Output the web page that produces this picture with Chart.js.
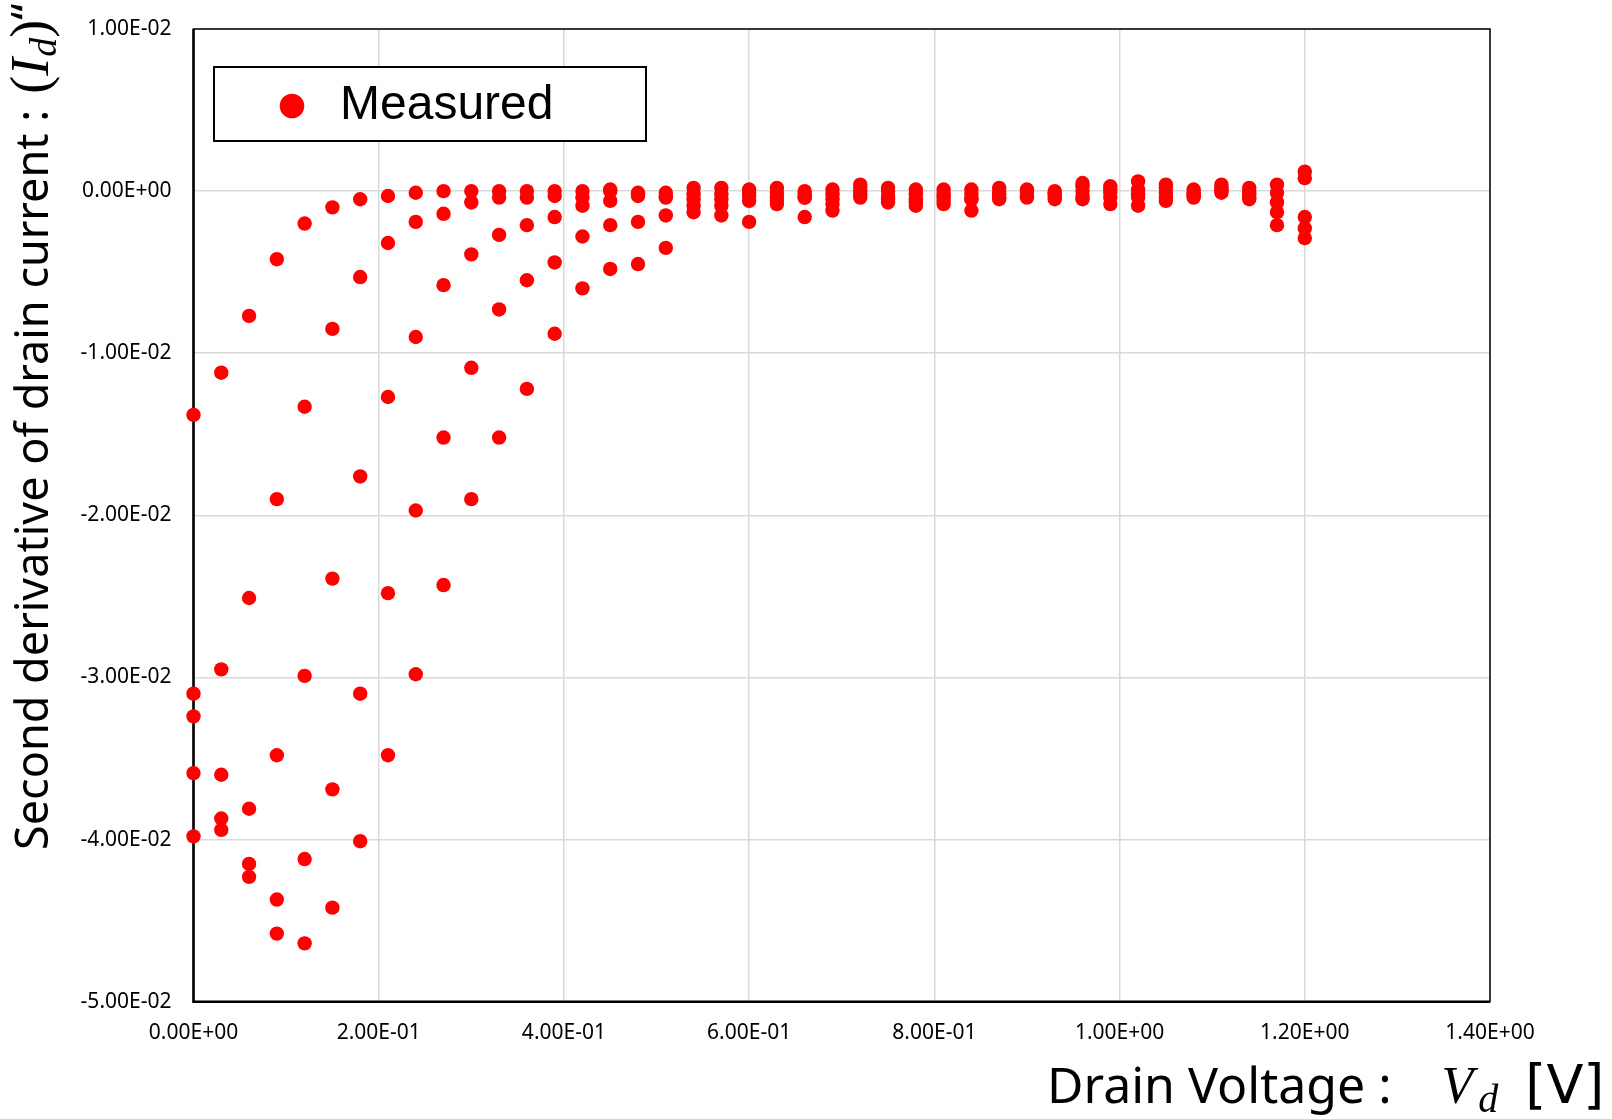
<!DOCTYPE html>
<html>
<head>
<meta charset="utf-8">
<title>Second derivative of drain current</title>
<script src="https://cdn.jsdelivr.net/npm/chart.js@4.4.1/dist/chart.umd.min.js"></script>
<style>
  html, body { margin: 0; padding: 0; background: #fff; }
  canvas { display: block; }
</style>
</head>
<body>
<canvas id="d2Chart" width="1612" height="1119"></canvas>
<script>
// Drain voltage sweep [V]
const vd = [
  0.00, 0.03, 0.06, 0.09, 0.12, 0.15, 0.18, 0.21, 0.24, 0.27,
  0.30, 0.33, 0.36, 0.39, 0.42, 0.45, 0.48, 0.51, 0.54, 0.57,
  0.60, 0.63, 0.66, 0.69, 0.72, 0.75, 0.78, 0.81, 0.84, 0.87,
  0.90, 0.93, 0.96, 0.99, 1.02, 1.05, 1.08, 1.11, 1.14, 1.17,
  1.20
];

// Second derivative of Id, one array per measured curve
const curve1 = [
  -0.0138, -0.0112, -0.0077, -0.0042, -0.0020, -0.0010, -0.0005, -0.0003, -0.0001, 0.0000,
   0.0000,  0.0000,  0.0000,  0.0000,  0.0000,  0.0001, -0.0001, -0.0001,  0.0002, 0.0002,
   0.0001,  0.0002,  0.0000,  0.0001,  0.0004,  0.0002,  0.0001,  0.0001,  0.0001, 0.0002,
   0.0001,  0.0000,  0.0005,  0.0003,  0.0006,  0.0004,  0.0001,  0.0004,  0.0002, 0.0004,
   0.0012
];
const curve2 = [
  -0.0310, -0.0295, -0.0251, -0.0190, -0.0133, -0.0085, -0.0053, -0.0032, -0.0019, -0.0014,
  -0.0007, -0.0004, -0.0004, -0.0003, -0.0004,  0.0000, -0.0002, -0.0003, -0.0002, -0.0002,
  -0.0001, -0.0001, -0.0002, -0.0002,  0.0002,  0.0000, -0.0002, -0.0002, -0.0002,  0.0000,
   0.0000, -0.0001,  0.0003,  0.0001,  0.0001,  0.0002, -0.0001,  0.0002,  0.0000, -0.0001,
   0.0008
];
const curve3 = [
  -0.0324, -0.0360, -0.0381, -0.0348, -0.0299, -0.0239, -0.0176, -0.0127, -0.0090, -0.0058,
  -0.0039, -0.0027, -0.0021, -0.0016, -0.0009, -0.0006, -0.0003, -0.0004, -0.0005, -0.0005,
  -0.0003, -0.0004, -0.0004, -0.0005,  0.0000, -0.0003, -0.0005, -0.0004, -0.0005, -0.0002,
  -0.0001, -0.0002,  0.0000, -0.0001, -0.0002, -0.0001, -0.0002,  0.0001, -0.0002, -0.0007,
  -0.0016
];
const curve4 = [
  -0.0359, -0.0387, -0.0415, -0.0437, -0.0412, -0.0369, -0.0310, -0.0248, -0.0197, -0.0152,
  -0.0109, -0.0073, -0.0055, -0.0044, -0.0028, -0.0021, -0.0019, -0.0015, -0.0009, -0.0009,
  -0.0006, -0.0006, -0.0004, -0.0008, -0.0002, -0.0005, -0.0007, -0.0006, -0.0005, -0.0004,
  -0.0003, -0.0003, -0.0003, -0.0004, -0.0004, -0.0004, -0.0003,  0.0000, -0.0004, -0.0013,
  -0.0023
];
const curve5 = [
  -0.0398, -0.0394, -0.0423, -0.0458, -0.0464, -0.0442, -0.0401, -0.0348, -0.0298, -0.0243,
  -0.0190, -0.0152, -0.0122, -0.0088, -0.0060, -0.0048, -0.0045, -0.0035, -0.0013, -0.0015,
  -0.0019, -0.0008, -0.0016, -0.0012, -0.0004, -0.0007, -0.0009, -0.0008, -0.0012, -0.0005,
  -0.0004, -0.0005, -0.0005, -0.0008, -0.0009, -0.0006, -0.0004, -0.0001, -0.0005, -0.0021,
  -0.0029
];
const curves = [curve1, curve2, curve3, curve4, curve5];

const RED = "#ff0000";
const SANS = "'Noto Sans', 'Open Sans', sans-serif";
const ARIAL = "'Liberation Sans', Arial, sans-serif";
const WIDE = "'DejaVu Sans', Verdana, sans-serif";
const SERIF = "'Liberation Serif', 'Times New Roman', serif";

// Excel style scientific labels: 1.00E-02
function sci(v) {
  const [m, e] = Number(v).toExponential(2).split("e");
  const n = parseInt(e, 10);
  return m + "E" + (n < 0 ? "-" : "+") + String(Math.abs(n)).padStart(2, "0");
}

const points = [];
curves.forEach((c) => c.forEach((y, i) => points.push({ x: vd[i], y })));

// frame around the plotting area, under the markers
const plotFrame = {
  id: "plotFrame",
  beforeDatasetsDraw(chart) {
    const { ctx, chartArea: a } = chart;
    ctx.save();
    ctx.strokeStyle = "#000";
    ctx.lineWidth = 1.5;
    ctx.strokeRect(a.left, a.top, a.right - a.left, a.bottom - a.top);
    ctx.lineWidth = 2.5;
    ctx.beginPath();
    ctx.moveTo(a.left, a.top);
    ctx.lineTo(a.left, a.bottom);
    ctx.lineTo(a.right, a.bottom);
    ctx.stroke();
    ctx.restore();
  },
};

// boxed legend in the upper left of the plot
const legendBox = {
  id: "legendBox",
  afterDatasetsDraw(chart) {
    const { ctx } = chart;
    const ds = chart.data.datasets[0];
    ctx.save();
    ctx.fillStyle = "#fff";
    ctx.fillRect(214, 67, 432, 74);
    ctx.strokeStyle = "#000";
    ctx.lineWidth = 2;
    ctx.strokeRect(214, 67, 432, 74);
    ctx.fillStyle = ds.backgroundColor;
    ctx.beginPath();
    ctx.arc(292, 106, 12.3, 0, Math.PI * 2);
    ctx.fill();
    ctx.fillStyle = "#000";
    ctx.font = "48px " + ARIAL;
    ctx.textBaseline = "middle";
    ctx.fillText(ds.label, 340, 106);
    ctx.restore();
  },
};

// axis titles with italic math symbols
function drawRuns(ctx, runs, x, y) {
  runs.forEach((r) => {
    ctx.font = r.font;
    ctx.fillText(r.text, x, y + (r.dy || 0));
    x += ctx.measureText(r.text).width + (r.gap || 0);
  });
  return x;
}

const axisTitles = {
  id: "axisTitles",
  afterDraw(chart) {
    const { ctx } = chart;
    ctx.save();
    ctx.fillStyle = "#000";
    ctx.textBaseline = "alphabetic";
    ctx.textAlign = "left";

    // vertical title
    ctx.save();
    ctx.translate(48, 850);
    ctx.rotate(-Math.PI / 2);
    drawRuns(ctx, [
      { text: "Second derivative of drain current :", font: "45px " + SANS, gap: 16 },
      { text: "(", font: "54px " + SERIF },
      { text: "I", font: "italic 54px " + SERIF, gap: 1 },
      { text: "d", font: "italic 38px " + SERIF, dy: 8 },
      { text: ")", font: "54px " + SERIF },
      { text: "\u201C", font: "45px " + SANS, dy: -4 },
    ], 0, 0);
    ctx.restore();

    // horizontal title
    drawRuns(ctx, [
      { text: "Drain Voltage :", font: "50px " + SANS, gap: 50 },
      { text: "V", font: "italic 52px " + SERIF, gap: 5 },
      { text: "d", font: "italic 40px " + SERIF, dy: 9, gap: 27 },
      { text: "[V]", font: "54px " + WIDE },
    ], 1047, 1103);
    ctx.restore();
  },
};

// keep tick label overhang from shifting the plot area
function noLabelPadding(s) {
  s.paddingTop = 0;
  s.paddingBottom = 0;
  s.paddingLeft = 0;
  s.paddingRight = 0;
}

const ctx = document.getElementById("d2Chart").getContext("2d");

new Chart(ctx, {
  type: "scatter",
  data: {
    datasets: [
      {
        label: "Measured",
        data: points,
        backgroundColor: RED,
        borderColor: RED,
        pointRadius: 7.2,
        pointHoverRadius: 7.2,
        pointBorderWidth: 0,
        clip: false,
      },
    ],
  },
  options: {
    responsive: false,
    animation: false,
    devicePixelRatio: 1,
    layout: {
      autoPadding: false,
      padding: { left: 0, top: 29, right: 122, bottom: 0 },
    },
    plugins: {
      legend: { display: false },
      tooltip: { enabled: false },
    },
    scales: {
      x: {
        type: "linear",
        min: 0,
        max: 1.4,
        afterFit: (s) => { s.height = 117.3; noLabelPadding(s); },
        ticks: {
          stepSize: 0.2,
          padding: 19,
          color: "#000",
          font: { family: SANS, size: 21 },
          maxRotation: 0,
          callback: (v) => sci(v),
        },
        grid: { color: "#d9d9d9", lineWidth: 1.5, drawTicks: false },
        border: { display: false },
      },
      y: {
        type: "linear",
        min: -0.05,
        max: 0.01,
        afterFit: (s) => { s.width = 193.5; noLabelPadding(s); },
        ticks: {
          stepSize: 0.01,
          padding: 22,
          color: "#000",
          font: { family: SANS, size: 21 },
          callback: (v) => sci(v),
        },
        grid: { color: "#d9d9d9", lineWidth: 1.5, drawTicks: false },
        border: { display: false },
      },
    },
  },
  plugins: [plotFrame, legendBox, axisTitles],
});
</script>
</body>
</html>
